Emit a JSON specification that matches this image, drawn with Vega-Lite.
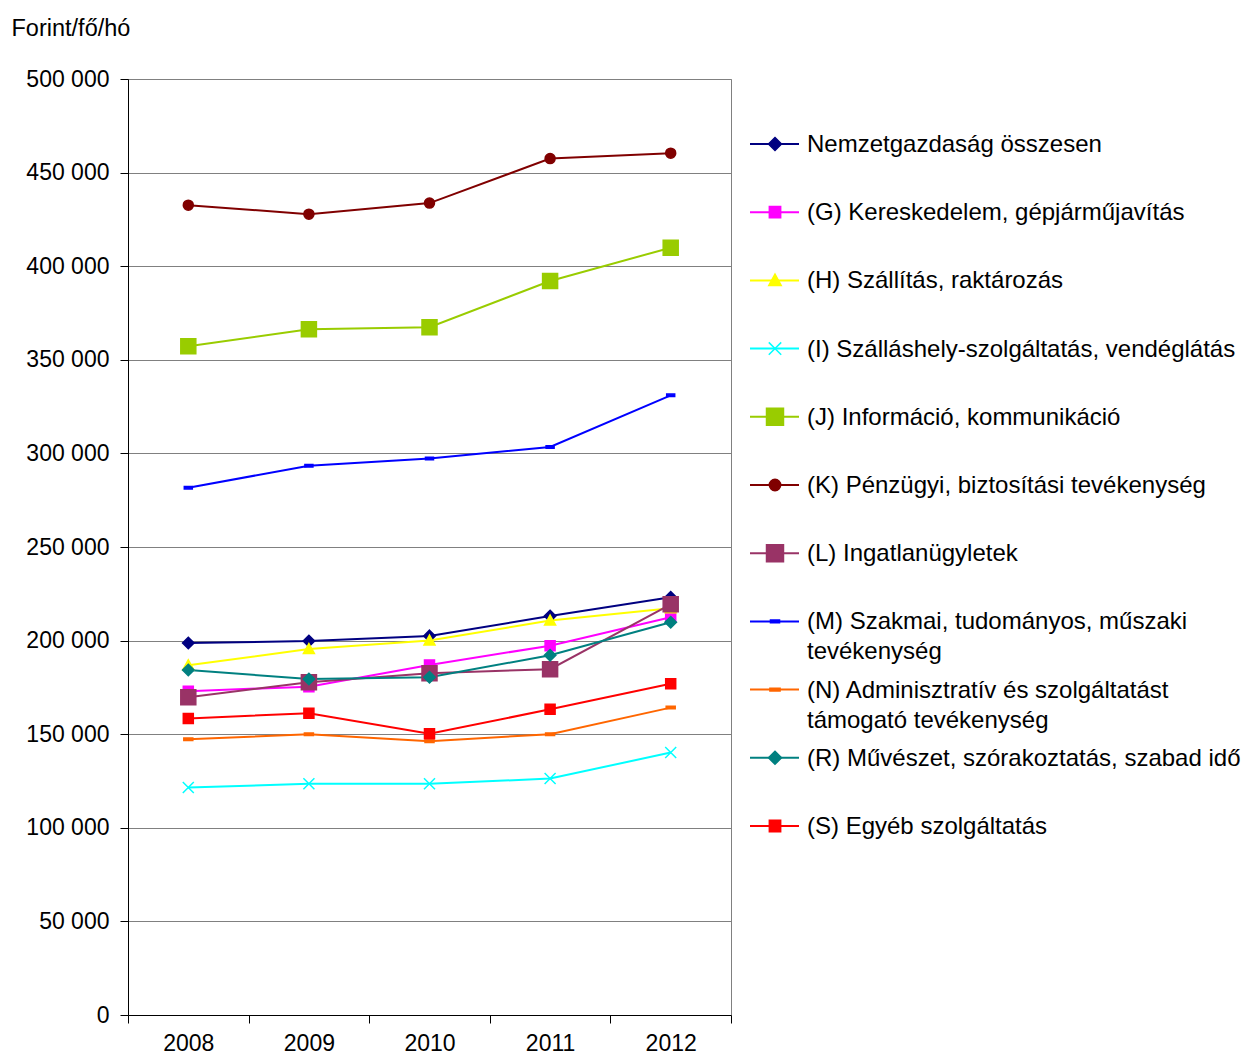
{
  "$schema": "https://vega.github.io/schema/vega-lite/v6.json",
  "padding": {"left": 10, "top": 15, "right": 0, "bottom": 0},
  "spacing": 17,
  "config": {
    "font": "Liberation Sans",
    "locale": {"number": {"decimal": ",", "thousands": " ", "grouping": [3], "currency": ["", ""]}},
    "view": {"stroke": null}
  },
  "datasets": {
    "values": [
      {"series": "Nemzetgazdaság összesen", "year": "2008", "value": 198700},
      {"series": "Nemzetgazdaság összesen", "year": "2009", "value": 199800},
      {"series": "Nemzetgazdaság összesen", "year": "2010", "value": 202500},
      {"series": "Nemzetgazdaság összesen", "year": "2011", "value": 213100},
      {"series": "Nemzetgazdaság összesen", "year": "2012", "value": 223100},
      {"series": "(G) Kereskedelem, gépjárműjavítás", "year": "2008", "value": 173000},
      {"series": "(G) Kereskedelem, gépjárműjavítás", "year": "2009", "value": 175400},
      {"series": "(G) Kereskedelem, gépjárműjavítás", "year": "2010", "value": 187000},
      {"series": "(G) Kereskedelem, gépjárműjavítás", "year": "2011", "value": 197300},
      {"series": "(G) Kereskedelem, gépjárműjavítás", "year": "2012", "value": 212500},
      {"series": "(H) Szállítás, raktározás", "year": "2008", "value": 186800},
      {"series": "(H) Szállítás, raktározás", "year": "2009", "value": 195500},
      {"series": "(H) Szállítás, raktározás", "year": "2010", "value": 200000},
      {"series": "(H) Szállítás, raktározás", "year": "2011", "value": 210700},
      {"series": "(H) Szállítás, raktározás", "year": "2012", "value": 217300},
      {"series": "(I) Szálláshely-szolgáltatás, vendéglátás", "year": "2008", "value": 121500},
      {"series": "(I) Szálláshely-szolgáltatás, vendéglátás", "year": "2009", "value": 123500},
      {"series": "(I) Szálláshely-szolgáltatás, vendéglátás", "year": "2010", "value": 123500},
      {"series": "(I) Szálláshely-szolgáltatás, vendéglátás", "year": "2011", "value": 126300},
      {"series": "(I) Szálláshely-szolgáltatás, vendéglátás", "year": "2012", "value": 140200},
      {"series": "(J) Információ, kommunikáció", "year": "2008", "value": 357200},
      {"series": "(J) Információ, kommunikáció", "year": "2009", "value": 366300},
      {"series": "(J) Információ, kommunikáció", "year": "2010", "value": 367400},
      {"series": "(J) Információ, kommunikáció", "year": "2011", "value": 392100},
      {"series": "(J) Információ, kommunikáció", "year": "2012", "value": 409900},
      {"series": "(K) Pénzügyi, biztosítási tevékenység", "year": "2008", "value": 432600},
      {"series": "(K) Pénzügyi, biztosítási tevékenység", "year": "2009", "value": 427800},
      {"series": "(K) Pénzügyi, biztosítási tevékenység", "year": "2010", "value": 433700},
      {"series": "(K) Pénzügyi, biztosítási tevékenység", "year": "2011", "value": 457500},
      {"series": "(K) Pénzügyi, biztosítási tevékenység", "year": "2012", "value": 460400},
      {"series": "(L) Ingatlanügyletek", "year": "2008", "value": 169700},
      {"series": "(L) Ingatlanügyletek", "year": "2009", "value": 177800},
      {"series": "(L) Ingatlanügyletek", "year": "2010", "value": 182600},
      {"series": "(L) Ingatlanügyletek", "year": "2011", "value": 184700},
      {"series": "(L) Ingatlanügyletek", "year": "2012", "value": 219400},
      {"series": "(M) Szakmai, tudományos, műszaki tevékenység", "year": "2008", "value": 281700},
      {"series": "(M) Szakmai, tudományos, műszaki tevékenység", "year": "2009", "value": 293400},
      {"series": "(M) Szakmai, tudományos, műszaki tevékenység", "year": "2010", "value": 297300},
      {"series": "(M) Szakmai, tudományos, műszaki tevékenység", "year": "2011", "value": 303400},
      {"series": "(M) Szakmai, tudományos, műszaki tevékenység", "year": "2012", "value": 331000},
      {"series": "(N) Adminisztratív és szolgáltatást támogató tevékenység", "year": "2008", "value": 147300},
      {"series": "(N) Adminisztratív és szolgáltatást támogató tevékenység", "year": "2009", "value": 150000},
      {"series": "(N) Adminisztratív és szolgáltatást támogató tevékenység", "year": "2010", "value": 146300},
      {"series": "(N) Adminisztratív és szolgáltatást támogató tevékenység", "year": "2011", "value": 150000},
      {"series": "(N) Adminisztratív és szolgáltatást támogató tevékenység", "year": "2012", "value": 164200},
      {"series": "(R) Művészet, szórakoztatás, szabad idő", "year": "2008", "value": 184300},
      {"series": "(R) Művészet, szórakoztatás, szabad idő", "year": "2009", "value": 179500},
      {"series": "(R) Művészet, szórakoztatás, szabad idő", "year": "2010", "value": 180400},
      {"series": "(R) Művészet, szórakoztatás, szabad idő", "year": "2011", "value": 192200},
      {"series": "(R) Művészet, szórakoztatás, szabad idő", "year": "2012", "value": 209800},
      {"series": "(S) Egyéb szolgáltatás", "year": "2008", "value": 158400},
      {"series": "(S) Egyéb szolgáltatás", "year": "2009", "value": 161200},
      {"series": "(S) Egyéb szolgáltatás", "year": "2010", "value": 150200},
      {"series": "(S) Egyéb szolgáltatás", "year": "2011", "value": 163300},
      {"series": "(S) Egyéb szolgáltatás", "year": "2012", "value": 177000}
    ],
    "legend": [
      {"series": "Nemzetgazdaság összesen", "label": "Nemzetgazdaság összesen"},
      {"series": "(G) Kereskedelem, gépjárműjavítás", "label": "(G) Kereskedelem, gépjárműjavítás"},
      {"series": "(H) Szállítás, raktározás", "label": "(H) Szállítás, raktározás"},
      {"series": "(I) Szálláshely-szolgáltatás, vendéglátás", "label": "(I) Szálláshely-szolgáltatás, vendéglátás"},
      {"series": "(J) Információ, kommunikáció", "label": "(J) Információ, kommunikáció"},
      {"series": "(K) Pénzügyi, biztosítási tevékenység", "label": "(K) Pénzügyi, biztosítási tevékenység"},
      {"series": "(L) Ingatlanügyletek", "label": "(L) Ingatlanügyletek"},
      {"series": "(M) Szakmai, tudományos, műszaki tevékenység", "label": "(M) Szakmai, tudományos, műszaki\ntevékenység"},
      {"series": "(N) Adminisztratív és szolgáltatást támogató tevékenység", "label": "(N) Adminisztratív és szolgáltatást\ntámogató tevékenység"},
      {"series": "(R) Művészet, szórakoztatás, szabad idő", "label": "(R) Művészet, szórakoztatás, szabad idő"},
      {"series": "(S) Egyéb szolgáltatás", "label": "(S) Egyéb szolgáltatás"}
    ]
  },
  "hconcat": [
    {
      "width": 603,
      "height": 936,
      "view": {"stroke": "#808080"},
      "data": {"name": "values"},
      "encoding": {
        "x": {
          "field": "year", "type": "ordinal", "bandPosition": 0.5,
          "scale": {"type": "band", "paddingInner": 0, "paddingOuter": 0},
          "axis": {"title": null, "labelAngle": 0, "tickBand": "extent", "tickSize": 8, "labelPadding": 9, "labelFontSize": 23, "labelColor": "black", "tickColor": "black", "domainColor": "black", "grid": false}
        },
        "y": {
          "field": "value", "type": "quantitative",
          "scale": {"domain": [0, 500000], "nice": false},
          "axis": {
            "title": "Forint/fő/hó", "titleAngle": 0, "titleAlign": "left", "titleBaseline": "top", "titleX": -117, "titleY": -63,
            "titleFontSize": 23.5, "titleFontWeight": "normal", "titleColor": "black",
            "values": [0, 50000, 100000, 150000, 200000, 250000, 300000, 350000, 400000, 450000, 500000],
            "format": ",d", "labelFontSize": 23, "labelPadding": 11, "tickSize": 8, "labelColor": "black", "tickColor": "black", "domainColor": "black",
            "grid": true, "gridColor": "#808080", "gridOpacity": 1
          }
        },
        "color": {
          "field": "series", "type": "nominal", "legend": null,
          "scale": {
            "domain": ["Nemzetgazdaság összesen", "(G) Kereskedelem, gépjárműjavítás", "(H) Szállítás, raktározás", "(I) Szálláshely-szolgáltatás, vendéglátás", "(J) Információ, kommunikáció", "(K) Pénzügyi, biztosítási tevékenység", "(L) Ingatlanügyletek", "(M) Szakmai, tudományos, műszaki tevékenység", "(N) Adminisztratív és szolgáltatást támogató tevékenység", "(R) Művészet, szórakoztatás, szabad idő", "(S) Egyéb szolgáltatás"],
            "range": ["#000080", "#FF00FF", "#FFFF00", "#00FFFF", "#99CC00", "#800000", "#993366", "#0000FF", "#FF6600", "#008080", "#FF0000"]
          }
        }
      },
      "layer": [
        {"mark": {"type": "line", "strokeWidth": 2}},
        {
          "mark": {"type": "point", "filled": true, "opacity": 1, "size": 100, "strokeWidth": 1.5},
          "encoding": {
            "shape": {
              "field": "series", "type": "nominal", "legend": null,
              "scale": {
                "domain": ["Nemzetgazdaság összesen", "(G) Kereskedelem, gépjárműjavítás", "(H) Szállítás, raktározás", "(I) Szálláshely-szolgáltatás, vendéglátás", "(J) Információ, kommunikáció", "(K) Pénzügyi, biztosítási tevékenység", "(L) Ingatlanügyletek", "(M) Szakmai, tudományos, műszaki tevékenység", "(N) Adminisztratív és szolgáltatást támogató tevékenység", "(R) Művészet, szórakoztatás, szabad idő", "(S) Egyéb szolgáltatás"],
                "range": ["M0,-1.15L1.15,0L0,1.15L-1.15,0Z", "M-1,-1H1V1H-1Z", "M0,-1.1L1.1,0.9H-1.1Z", "M-1.1,-1.1L1.1,1.1M-1.1,1.1L1.1,-1.1", "M-1.5,-1.5H1.5V1.5H-1.5Z", "circle", "M-1.5,-1.5H1.5V1.5H-1.5Z", "M-0.8,-0.25H0.8V0.25H-0.8Z", "M-0.9,-0.25H0.9V0.25H-0.9Z", "M0,-1.15L1.15,0L0,1.15L-1.15,0Z", "M-1,-1H1V1H-1Z"]
              }
            },
            "stroke": {
              "field": "series", "type": "nominal", "legend": null,
              "scale": {
                "domain": ["Nemzetgazdaság összesen", "(G) Kereskedelem, gépjárműjavítás", "(H) Szállítás, raktározás", "(I) Szálláshely-szolgáltatás, vendéglátás", "(J) Információ, kommunikáció", "(K) Pénzügyi, biztosítási tevékenység", "(L) Ingatlanügyletek", "(M) Szakmai, tudományos, műszaki tevékenység", "(N) Adminisztratív és szolgáltatást támogató tevékenység", "(R) Művészet, szórakoztatás, szabad idő", "(S) Egyéb szolgáltatás"],
                "range": ["#000080", "#FF00FF", "#FFFF00", "#00FFFF", "#99CC00", "#800000", "#993366", "#0000FF", "#FF6600", "#008080", "#FF0000"]
              }
            }
          }
        }
      ]
    },
    {
      "width": 480,
      "height": 936,
      "data": {"name": "legend"},
      "encoding": {
        "y": {
          "field": "series", "type": "nominal", "axis": null,
          "scale": {
            "type": "point", "padding": 0,
            "domain": ["Nemzetgazdaság összesen", "(G) Kereskedelem, gépjárműjavítás", "(H) Szállítás, raktározás", "(I) Szálláshely-szolgáltatás, vendéglátás", "(J) Információ, kommunikáció", "(K) Pénzügyi, biztosítási tevékenység", "(L) Ingatlanügyletek", "(M) Szakmai, tudományos, műszaki tevékenység", "(N) Adminisztratív és szolgáltatást támogató tevékenység", "(R) Művészet, szórakoztatás, szabad idő", "(S) Egyéb szolgáltatás"],
            "range": [65, 747]
          }
        },
        "color": {
          "field": "series", "type": "nominal", "legend": null,
          "scale": {
            "domain": ["Nemzetgazdaság összesen", "(G) Kereskedelem, gépjárműjavítás", "(H) Szállítás, raktározás", "(I) Szálláshely-szolgáltatás, vendéglátás", "(J) Információ, kommunikáció", "(K) Pénzügyi, biztosítási tevékenység", "(L) Ingatlanügyletek", "(M) Szakmai, tudományos, műszaki tevékenység", "(N) Adminisztratív és szolgáltatást támogató tevékenység", "(R) Művészet, szórakoztatás, szabad idő", "(S) Egyéb szolgáltatás"],
            "range": ["#000080", "#FF00FF", "#FFFF00", "#00FFFF", "#99CC00", "#800000", "#993366", "#0000FF", "#FF6600", "#008080", "#FF0000"]
          }
        }
      },
      "layer": [
        {
          "mark": {"type": "rule", "strokeWidth": 2},
          "encoding": {
            "x": {"datum": 0, "type": "quantitative", "scale": {"domain": [0, 480], "nice": false}, "axis": null},
            "x2": {"datum": 49}
          }
        },
        {
          "mark": {"type": "point", "filled": true, "opacity": 1, "size": 128, "strokeWidth": 1.5},
          "encoding": {
            "x": {"datum": 25, "type": "quantitative"},
            "shape": {
              "field": "series", "type": "nominal", "legend": null,
              "scale": {
                "domain": ["Nemzetgazdaság összesen", "(G) Kereskedelem, gépjárműjavítás", "(H) Szállítás, raktározás", "(I) Szálláshely-szolgáltatás, vendéglátás", "(J) Információ, kommunikáció", "(K) Pénzügyi, biztosítási tevékenység", "(L) Ingatlanügyletek", "(M) Szakmai, tudományos, műszaki tevékenység", "(N) Adminisztratív és szolgáltatást támogató tevékenység", "(R) Művészet, szórakoztatás, szabad idő", "(S) Egyéb szolgáltatás"],
                "range": ["M0,-1.15L1.15,0L0,1.15L-1.15,0Z", "M-1,-1H1V1H-1Z", "M0,-1.1L1.1,0.9H-1.1Z", "M-1.1,-1.1L1.1,1.1M-1.1,1.1L1.1,-1.1", "M-1.5,-1.5H1.5V1.5H-1.5Z", "circle", "M-1.5,-1.5H1.5V1.5H-1.5Z", "M-0.8,-0.25H0.8V0.25H-0.8Z", "M-0.9,-0.25H0.9V0.25H-0.9Z", "M0,-1.15L1.15,0L0,1.15L-1.15,0Z", "M-1,-1H1V1H-1Z"]
              }
            },
            "stroke": {
              "field": "series", "type": "nominal", "legend": null,
              "scale": {
                "domain": ["Nemzetgazdaság összesen", "(G) Kereskedelem, gépjárműjavítás", "(H) Szállítás, raktározás", "(I) Szálláshely-szolgáltatás, vendéglátás", "(J) Információ, kommunikáció", "(K) Pénzügyi, biztosítási tevékenység", "(L) Ingatlanügyletek", "(M) Szakmai, tudományos, műszaki tevékenység", "(N) Adminisztratív és szolgáltatást támogató tevékenység", "(R) Művészet, szórakoztatás, szabad idő", "(S) Egyéb szolgáltatás"],
                "range": ["#000080", "#FF00FF", "#FFFF00", "#00FFFF", "#99CC00", "#800000", "#993366", "#0000FF", "#FF6600", "#008080", "#FF0000"]
              }
            }
          }
        },
        {
          "mark": {"type": "text", "align": "left", "baseline": "alphabetic", "dy": 8, "fontSize": 24, "lineBreak": "\n", "lineHeight": 30, "color": "black"},
          "encoding": {
            "x": {"datum": 57, "type": "quantitative"},
            "text": {"field": "label"},
            "color": {"value": "black"}
          }
        }
      ]
    }
  ]
}
